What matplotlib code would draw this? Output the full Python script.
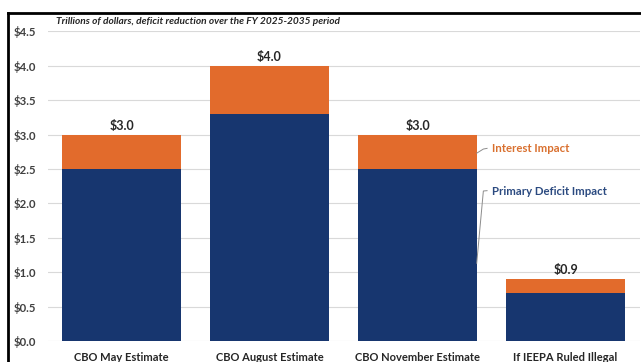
import matplotlib
matplotlib.use("Agg")
import matplotlib.pyplot as plt
from matplotlib.lines import Line2D

categories = ["CBO May Estimate", "CBO August Estimate", "CBO November Estimate", "If IEEPA Ruled Illegal"]
primary = [2.5, 3.3, 2.5, 0.7]
interest = [0.5, 0.7, 0.5, 0.2]
totals = [3.0, 4.0, 3.0, 0.9]
yticks = [0.0, 0.5, 1.0, 1.5, 2.0, 2.5, 3.0, 3.5, 4.0, 4.5]

NAVY = "#17366f"
ORANGE = "#e26b2c"
FONT = ["Lato", "DejaVu Sans"]
plt.rcParams["font.family"] = FONT

W, H = 641, 362
fig = plt.figure(figsize=(W / 100, H / 100), dpi=100)
fig.patch.set_facecolor("white")

# axes placement (pixels)
left, right, top, bottom = 47.5, 639.5, 31.4, 341
ax = fig.add_axes([left / W, (H - bottom) / H, (right - left) / W, (bottom - top) / H])
ax.set_facecolor("white")

x = list(range(len(categories)))
ax.bar(x, primary, width=0.80, color=NAVY, zorder=3)
ax.bar(x, interest, width=0.80, bottom=primary, color=ORANGE, zorder=3)

for xi, t in zip(x, totals):
    ax.text(xi, t + 0.04, f"${t:.1f}", ha="center", va="bottom", fontsize=9,
            fontweight="bold", color="#262626", zorder=4)

ax.set_xlim(-0.5, 3.5)
ax.set_ylim(0, 4.5)
ax.set_yticks(yticks)
ax.set_yticklabels([f"${v:.1f}" for v in yticks], fontsize=8.2, fontweight="bold", color="#404040")
ax.set_xticks(x)
ax.set_xticklabels(categories, fontsize=8, fontweight="bold", color="#262626")
ax.tick_params(axis="both", length=0)
ax.tick_params(axis="y", pad=8)
ax.tick_params(axis="x", pad=8)
ax.grid(axis="y", color="#d9d9d9", linewidth=0.8, zorder=0)
for s in ax.spines.values():
    s.set_visible(False)

# annotations
ax.text(2.50, 2.80, "Interest Impact", color="#d9702f", fontsize=8.2,
        fontweight="bold", va="center", ha="left", zorder=5)
ax.text(2.50, 2.18, "Primary Deficit Impact", color="#2b4a80", fontsize=8.2,
        fontweight="bold", va="center", ha="left", zorder=5)
ax.plot([2.40, 2.445, 2.47], [2.73, 2.79, 2.80], color="#8c8c8c", linewidth=0.7, zorder=5, clip_on=False)
ax.plot([2.40, 2.445, 2.47], [1.13, 2.18, 2.185], color="#8c8c8c", linewidth=0.7, zorder=5, clip_on=False)

# title
fig.text(56 / W, (H - 22) / H, "Trillions of dollars, deficit reduction over the FY 2025-2035 period",
         fontsize=7.3, fontweight="bold", fontstyle="italic", color="#262626", va="center", ha="left")

# black screenshot border
fig.add_artist(Line2D([8 / W, 8 / W], [0, (H - 13) / H], color="black", linewidth=2))
fig.add_artist(Line2D([8 / W, 1], [(H - 13) / H, (H - 13) / H], color="black", linewidth=2))

fig.savefig("out.png", dpi=100)
